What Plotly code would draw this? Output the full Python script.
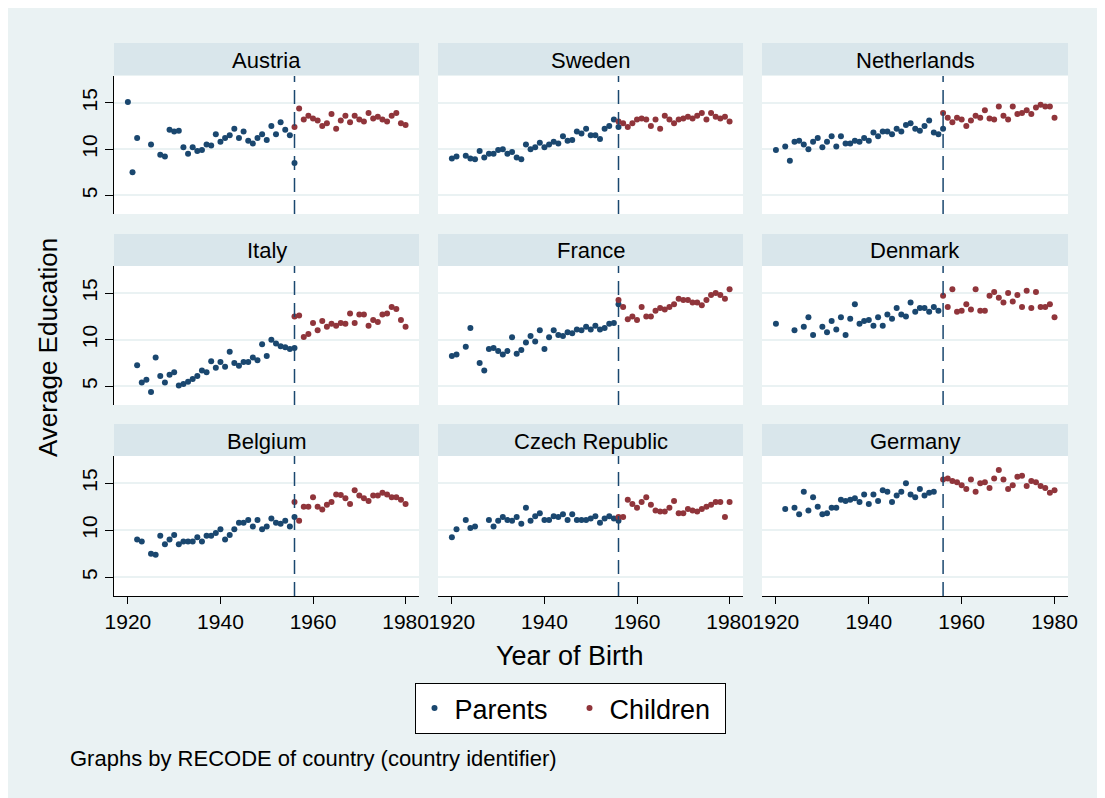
import plotly.graph_objects as go

# page body has an 8px margin; the figure fills the rest of the 1105x798 window
OFF = 8
W, H = 1105 - OFF, 798 - OFF

countries = ["Austria", "Sweden", "Netherlands", "Italy", "France", "Denmark",
             "Belgium", "Czech Republic", "Germany"]
cutoff_year = 1956
child_years = list(range(1956, 1981))

parent_years = {
    "Austria": [1920, 1921, 1922, 1925, 1927, 1928, 1929, 1930, 1931, 1932, 1933, 1934, 1935, 1936,
                1937, 1938, 1939, 1940, 1941, 1942, 1943, 1944, 1945, 1946, 1947, 1948, 1949, 1950,
                1951, 1952, 1953, 1954, 1955, 1956],
    "Sweden": [1920, 1921] + list(range(1923, 1957)),
    "Netherlands": [1920] + list(range(1922, 1957)),
    "Italy": list(range(1922, 1957)),
    "France": [1920, 1921, 1923, 1924] + list(range(1926, 1957)),
    "Denmark": [1920, 1924, 1926, 1927, 1928] + list(range(1930, 1956)),
    "Belgium": [1922, 1923] + list(range(1925, 1957)),
    "Czech Republic": [1920, 1921, 1923, 1924, 1925] + list(range(1928, 1957)),
    "Germany": [1922] + list(range(1924, 1955)),
}

parent_edu = {
    "Austria": [15.1, 7.5, 11.2, 10.5, 9.4, 9.2, 12.1, 11.9, 12.0, 10.2, 9.5, 10.2, 9.8, 9.9, 10.5,
                10.4, 11.6, 10.8, 11.2, 11.5, 12.2, 11.2, 11.9, 10.9, 10.6, 11.2, 11.6, 11.0, 12.5,
                11.6, 12.9, 12.1, 11.5, 8.5],
    "Sweden": [9.0, 9.2, 9.3, 9.0, 8.9, 9.8, 9.1, 9.5, 9.5, 9.9, 10.0, 9.5, 9.7, 9.1, 8.9, 10.5,
               10.0, 10.2, 10.7, 10.2, 10.5, 10.8, 10.6, 11.4, 10.9, 11.0, 11.9, 11.7, 12.2, 11.5,
               11.5, 11.1, 12.2, 12.5, 13.2, 12.4],
    "Netherlands": [9.9, 10.3, 8.75, 10.8, 10.9, 10.5, 10.0, 10.8, 11.2, 10.2, 10.8, 11.4, 10.3,
                    11.4, 10.6, 10.6, 10.9, 10.8, 11.2, 10.9, 11.8, 11.4, 11.9, 11.9, 11.6, 12.2,
                    11.9, 12.6, 12.8, 12.2, 12.0, 12.5, 13.1, 11.8, 11.6, 12.2],
    "Italy": [7.25, 5.4, 5.7, 4.4, 8.1, 6.1, 5.4, 6.25, 6.5, 5.1, 5.25, 5.5, 5.8, 6.1, 6.7, 6.5,
              7.7, 7.0, 7.6, 7.1, 8.7, 7.5, 7.2, 7.6, 7.6, 8.1, 7.8, 9.5, 8.25, 10.0, 9.6, 9.3,
              9.2, 9.0, 9.1],
    "France": [8.25, 8.4, 9.25, 11.25, 7.5, 6.7, 9.0, 9.1, 8.8, 8.4, 8.8, 10.25, 8.5, 8.9, 9.7,
               10.4, 9.8, 11.0, 9.0, 10.25, 11.0, 10.5, 10.4, 10.8, 10.7, 11.1, 11.0, 11.4, 11.1,
               11.5, 11.1, 11.25, 11.7, 11.8, 13.8],
    "Denmark": [11.7, 11.0, 11.4, 12.4, 10.5, 11.4, 10.8, 12.0, 11.1, 12.4, 10.5, 12.25, 13.8,
                11.7, 12.0, 12.1, 11.5, 12.4, 11.5, 12.7, 12.25, 13.4, 12.7, 12.5, 14.0, 13.0,
                13.4, 13.4, 13.0, 13.5, 13.1],
    "Belgium": [9.0, 8.8, 7.5, 7.4, 9.4, 8.5, 9.0, 9.5, 8.5, 8.8, 8.8, 8.8, 9.25, 8.8, 9.4, 9.4,
                9.7, 10.1, 9.0, 9.5, 10.1, 10.8, 10.8, 11.1, 10.4, 11.1, 10.1, 10.4, 11.25, 10.8,
                10.7, 11.0, 10.4, 11.4],
    "Czech Republic": [9.25, 10.1, 11.1, 10.25, 10.4, 11.1, 10.4, 11.0, 11.4, 11.1, 11.0, 11.4,
                       10.7, 12.4, 11.0, 11.5, 11.8, 11.1, 11.1, 11.5, 11.4, 11.7, 11.1, 11.7,
                       11.1, 11.1, 11.1, 11.25, 11.5, 10.8, 11.25, 11.5, 11.25, 11.0],
    "Germany": [12.25, 12.4, 11.7, 14.1, 12.1, 13.5, 12.5, 11.7, 11.8, 12.4, 12.4, 13.25, 13.1,
                13.25, 13.4, 13.0, 13.8, 12.8, 13.8, 13.1, 14.25, 14.1, 13.0, 13.7, 14.1, 15.0,
                13.8, 13.5, 14.4, 13.7, 14.0, 14.1],
}

child_edu = {
    "Austria": [12.4, 14.4, 13.2, 13.6, 13.3, 13.1, 12.5, 12.8, 13.8, 12.2, 13.1, 13.6, 12.9,
                13.6, 13.2, 13.0, 13.9, 13.3, 13.5, 13.2, 13.0, 13.6, 13.9, 12.8, 12.6],
    "Sweden": [13.0, 12.8, 12.4, 12.8, 13.2, 13.3, 13.2, 12.5, 13.2, 12.2, 13.6, 13.2, 12.8,
               13.2, 13.3, 13.5, 13.3, 13.6, 13.9, 13.2, 13.9, 13.5, 13.3, 13.5, 13.0],
    "Netherlands": [13.9, 13.4, 12.9, 13.4, 13.2, 12.5, 13.1, 13.6, 13.4, 14.2, 13.3, 13.2, 14.6,
                    13.6, 13.2, 14.6, 13.8, 13.9, 14.2, 13.8, 14.5, 14.8, 14.6, 14.6, 13.4],
    "Italy": [12.5, 12.6, 10.3, 10.6, 11.8, 11.0, 12.0, 11.4, 11.7, 11.5, 11.8, 11.7, 12.8, 11.8,
              12.7, 12.7, 11.5, 12.1, 11.9, 12.7, 12.8, 13.5, 13.3, 12.1, 11.4],
    "France": [14.25, 13.5, 12.2, 12.5, 12.1, 13.5, 12.5, 12.5, 13.1, 13.4, 13.25, 13.5, 13.8,
               14.4, 14.25, 14.25, 14.0, 14.0, 13.7, 14.25, 14.8, 15.0, 14.8, 14.4, 15.4],
    "Denmark": [14.7, 13.5, 15.4, 13.0, 13.1, 13.8, 13.25, 15.4, 13.1, 13.1, 14.7, 15.1, 14.5,
                14.0, 15.0, 14.1, 14.8, 13.5, 15.25, 13.4, 15.1, 13.5, 13.5, 13.8, 12.4],
    "Belgium": [13.0, 11.0, 12.5, 12.5, 13.5, 12.5, 12.2, 12.7, 13.0, 13.8, 13.75, 13.4, 12.8,
                14.25, 13.7, 13.4, 13.1, 13.7, 13.7, 14.0, 13.8, 13.5, 13.5, 13.25, 12.8],
    "Czech Republic": [11.4, 11.4, 13.25, 12.8, 12.4, 13.0, 13.5, 12.7, 12.1, 12.0, 12.0, 12.4,
                       13.1, 11.8, 11.8, 12.25, 12.1, 12.0, 12.25, 12.5, 12.7, 13.0, 13.0, 11.4,
                       13.0],
    "Germany": [15.4, 15.5, 15.25, 15.1, 14.8, 14.4, 15.4, 14.1, 15.0, 15.1, 14.5, 15.5, 16.4,
                15.4, 14.4, 14.8, 15.7, 15.8, 14.7, 15.25, 15.1, 14.7, 14.5, 14.0, 14.25],
}

x_ticks = [1920, 1940, 1960, 1980]
y_ticks = [5, 10, 15]

NAVY = "#1A476F"
MAROON = "#90353B"
BG = "#EAF2F3"
STRIP = "#D9E6EB"
FONT = "Liberation Sans, Arial, sans-serif"

# positions given in window pixels
col_px = [(114, 419), (438, 743), (762, 1068)]
row_px = [(76, 214), (266, 405), (456, 596)]
strip_px = [(43, 75), (234, 266), (424, 456)]


def fx(p):
    return (p - OFF) / W


def fy(p):
    return 1 - (p - OFF) / H


fig = go.Figure()
layout = dict(
    width=W, height=H, margin=dict(l=0, r=0, t=0, b=0, autoexpand=False),
    paper_bgcolor=BG, plot_bgcolor="white",
    font=dict(family=FONT, color="black"),
    showlegend=True,
)
shapes = [
    dict(type="rect", xref="paper", yref="paper", x0=fx(1097), x1=1, y0=0, y1=1,
         fillcolor="white", line=dict(width=0), layer="below"),
]
annotations = []

for i, c in enumerate(countries):
    r, col = divmod(i, 3)
    n = i + 1
    xa = "x" if n == 1 else f"x{n}"
    ya = "y" if n == 1 else f"y{n}"
    fig.add_trace(go.Scatter(
        x=parent_years[c], y=parent_edu[c], mode="markers", name="Parents",
        marker=dict(color=NAVY, size=6), xaxis=xa, yaxis=ya,
        showlegend=(i == 0), legendgroup="p"))
    fig.add_trace(go.Scatter(
        x=child_years, y=child_edu[c], mode="markers", name="Children",
        marker=dict(color=MAROON, size=6), xaxis=xa, yaxis=ya,
        showlegend=(i == 0), legendgroup="c"))

    bottom = (r == 2)
    left = (col == 0)
    layout[f"xaxis{n if n > 1 else ''}"] = dict(
        domain=[fx(col_px[col][0]), fx(col_px[col][1])],
        anchor=ya, range=[1917, 1982.9], automargin=False,
        tickvals=x_ticks, showticklabels=bottom,
        ticks="outside" if bottom else "", ticklen=7, tickcolor="black",
        showline=bottom, linecolor="black", linewidth=1,
        showgrid=False, zeroline=False,
        tickfont=dict(size=21, color="black"),
    )
    layout[f"yaxis{n if n > 1 else ''}"] = dict(
        domain=[fy(row_px[r][1]), fy(row_px[r][0])],
        anchor=xa, range=[3.0, 17.9], automargin=False,
        tickvals=y_ticks, showticklabels=left, tickangle=-90,
        ticks="outside" if left else "", ticklen=8, tickcolor="black",
        showline=left, linecolor="black", linewidth=1,
        showgrid=True, gridcolor=BG, gridwidth=1.5, zeroline=False,
        tickfont=dict(size=21, color="black"),
    )
    # strip
    shapes.append(dict(type="rect", xref="paper", yref="paper",
                       x0=fx(col_px[col][0]), x1=fx(col_px[col][1]),
                       y0=fy(strip_px[r][1]), y1=fy(strip_px[r][0]),
                       fillcolor=STRIP, line=dict(width=0), layer="below"))
    annotations.append(dict(text=c, xref="paper", yref="paper",
                            x=fx((col_px[col][0] + col_px[col][1]) / 2),
                            y=fy((strip_px[r][0] + strip_px[r][1]) / 2 + 1),
                            showarrow=False, xanchor="center", yanchor="middle",
                            font=dict(size=22, color="black")))
    # cutoff line
    shapes.append(dict(type="line", xref=xa, yref=f"{ya} domain",
                       x0=cutoff_year, x1=cutoff_year, y0=0, y1=1,
                       line=dict(color=NAVY, width=1.5, dash="14px,8px")))

annotations += [
    dict(text="Average Education", xref="paper", yref="paper", x=fx(48), y=fy(348),
         textangle=-90, showarrow=False, xanchor="center", yanchor="middle",
         font=dict(size=26, color="black")),
    dict(text="Year of Birth", xref="paper", yref="paper", x=fx(570), y=fy(656),
         showarrow=False, xanchor="center", yanchor="middle",
         font=dict(size=27, color="black")),
    dict(text="Graphs by RECODE of country (country identifier)", xref="paper", yref="paper",
         x=fx(68), y=fy(758), showarrow=False, xanchor="left", yanchor="middle",
         font=dict(size=22, color="black")),
]

layout["shapes"] = shapes
layout["annotations"] = annotations
layout["legend"] = dict(
    orientation="h", x=fx(570), xanchor="center", y=fy(683), yanchor="top",
    bgcolor="white", bordercolor="black", borderwidth=1,
    font=dict(size=27, color="black"), itemsizing="trace", entrywidth=110,
)
fig.update_layout(**layout)
fig.write_html("out.html")
